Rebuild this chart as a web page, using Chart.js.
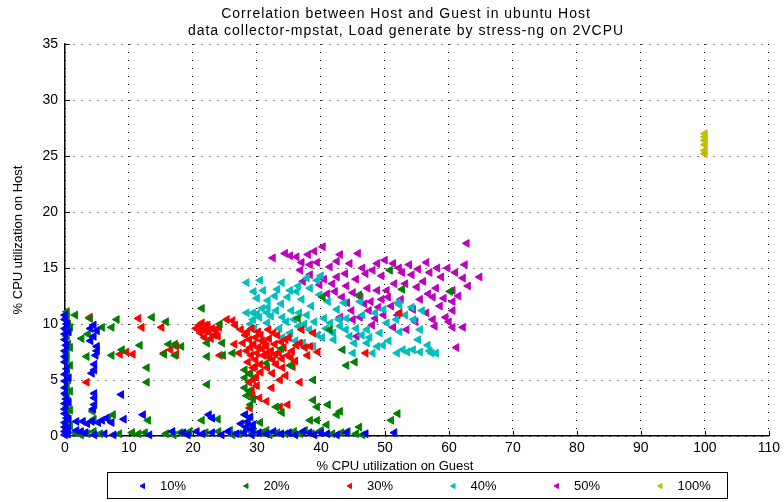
<!DOCTYPE html>
<html>
<head>
<meta charset="utf-8">
<script src="https://cdn.jsdelivr.net/npm/chart.js@4/dist/chart.umd.min.js"></script>
<style>
  html, body { margin: 0; padding: 0; background: #fff; }
</style>
</head>
<body>
<canvas id="scatter-chart" width="784" height="502"></canvas>
<script>
var titleLines = ["Correlation between Host and Guest in ubuntu Host",
                  "data collector-mpstat, Load generate by stress-ng on 2VCPU"]
var xTitle = "% CPU utilization on Guest"
var yTitle = "% CPU utilization on Host"
var xTicks = [0, 10, 20, 30, 40, 50, 60, 70, 80, 90, 100, 110]
var yTicks = [0, 5, 10, 15, 20, 25, 30, 35]
var seriesLabels = ["10%", "20%", "30%", "40%", "50%", "100%"]
var seriesColors = ["#0000ff", "#008000", "#ff0000", "#00bfbf", "#bf00bf", "#bfbf00"]

// [guest, host] pairs
var load10 = [
  [0,0.1],[0,0.4],[0,0.8],[0,1.2],[0.3,1.6],[0,2.0],[0,2.4],[0,2.9],[0.2,3.3],[0,3.8],[0,4.3],[0,4.9],
  [0,5.5],[0.3,6.0],[0,6.6],[0,7.1],[0,7.6],[0.2,8.1],[0,8.6],[0,9.1],[0,9.6],[0.3,10.0],[0,10.4],[0,10.8],
  [0.5,0.2],[0.5,0.7],[0.6,1.5],[0.6,3.0],[0.6,5.2],[0.6,9.3],
  [4.5,9.9],[4,9.6],[5,9.4],[4.5,8.9],[4,8.5],[5,8.0],[5,7.6],[4.8,7.2],[4.6,6.4],[4.6,5.9],[4.2,5.6],
  [4.6,3.8],[4.6,3.4],[4.6,2.8],[4.4,2.4],
  [1.8,1.3],[2.8,1.3],[3.5,1.1],[4.2,1.3],[5.2,1.2],[5.8,1.4],[6.5,1.6],[7.3,1.2],[9.2,1.5],[12.2,1.9],
  [8.8,3.7],[22.5,1.9],[23,1.6],
  [1.8,0.5],[2.5,0.4],[3.2,0.3],[4.6,0.1],[6.2,0.2],[7.6,0.1],[13.2,0.1],[16.8,0.4],[18.5,0.3],[19.2,0.1],
  [20.6,0.4],[21.5,0.2],[23.0,0.3],[24.5,0.1],[25.5,0.4],[26.8,0.2],[28.0,0.3],[29.2,0.1],[30.3,0.3],
  [31.5,0.2],[32.6,0.4],[33.8,0.2],[35.0,0.3],[36.0,0.1],[37.2,0.4],[38.2,0.3],[39.0,0.1],[40.0,0.3],
  [41.0,0.2],[42.5,0.1],[44.0,0.3],[47.0,0.2],[51.5,0.3],
  [28.2,1.9],[29,1.7],[28.6,1.3],[29.4,1.0],[28.3,0.8],[29.2,0.6],[27.5,1.1]
]
var load20 = [
  [0.3,0.2],[0.3,0.6],[0.3,1.0],[0.5,1.4],[0.3,2.0],[0.3,2.6],[0.5,3.1],[0.3,3.6],[0.3,4.4],[0.5,5.0],
  [0.3,5.6],[0.8,6.3],[0.3,6.9],[0.3,7.4],[0.5,8.2],[0.3,8.9],[0.3,9.4],[0.5,10.0],[0.3,10.6],[0.3,11.1],
  [0.8,0.9],[0.8,2.3],[0.8,4.0],[0.8,7.9],[0.8,9.7],
  [1.6,10.8],[3.9,10.5],[2.6,8.7],[3.6,9.1],[5.8,9.7],[7.3,9.7],[8.1,10.4],[3.4,7.1],[7.3,7.2],[8.9,7.7],
  [4.3,2.2],[4.5,1.5],[7.5,1.9],[6.8,1.5],[13,1.4],[11.7,8.1],[12.8,6.1],[12.8,4.8],[13.6,10.6],
  [16.2,8.2],[17.2,8.2],[18.2,8.0],[15.5,7.3],[17.2,7.2],[15.8,10.2],[21.4,11.4],[22.2,8.3],[24.6,8.3],
  [22.2,7.1],[26.2,7.4],[22.2,4.6],[21.4,1.4],[23.9,1.5],
  [1.5,0.3],[3.5,0.2],[4.5,0.4],[5.5,0.2],[10.5,0.3],[11.5,0.2],[15.8,0.2],[18,0.3],[22,0.3],[24,0.4],
  [25.8,0.5],[27.2,0.2],[29.5,0.4],[30.8,0.3],[32,0.1],[33.2,0.3],[34.5,0.2],[35.8,0.4],[37.5,0.5],
  [38.6,0.2],[41.8,0.2],[43.2,0.3],[45.5,0.2],[46.5,0.1],
  [2.5,0.1],[8.5,0.2],[12.5,0.3],[17,0.1],[19.5,0.4],[26.2,0.1],[28.5,0.6],[31.5,0.5],[36.8,0.2],[40,0.5],[44.2,0.4],
  [28.1,5.9],[28.1,5.2],[28.1,4.3],[28.8,4.0],[29.4,3.3],[29.0,2.8],[28.1,1.9],[28.5,1.2],[30.5,1.2],[29.2,0.9],
  [29.0,5.5],[28.4,3.6],
  [33,2.6],[33.9,2.1],[35.2,6.3],[38.8,5],[38.8,3.2],[39.4,2.6],[41.1,2.8],[42.5,1.9],[43,2.2],[38.3,1.4],
  [39.4,1.4],[40.9,1.0],[46,0.8],[44,6.3],[45.3,6.6],[43.4,7.7],[52,2],[51,1.4],[41.4,9.5],[40.3,12.4],
  [46,12.6],[50.8,14.8],[52.7,13.1],[60.2,12.9],[36.4,10.5],[33.8,7.8],[31.5,6.5],[24.7,7.2],[24.2,10.0]
]
var load30 = [
  [3.9,10.6],[11.5,10.5],[12,9.7],[15.1,9.7],[3.4,4.8],[8.6,7.3],[9.6,7.5],[10.6,7.3],[15.5,7.4],[16.5,7.7],
  [17.4,7.3],[17.4,8.0],[24.2,7.2],[26.2,10.3],
  [20.5,9.6],[21,9.9],[21.5,9.5],[22,9.9],[22.5,9.3],[21.8,8.8],[23,9.6],[22.3,9.9],[23.6,9.4],[24.1,9.7],
  [22.8,8.7],[21.2,9.2],[23.3,9.0],[22.0,9.4],[21.4,10.1],[23.9,8.9],
  [25.3,10.4],[26.6,9.9],[27.5,9.5],[28.2,9.0],[28.8,8.6],[29.5,8.2],[30.2,7.9],[30.8,8.5],[31.5,8.0],
  [32.2,7.6],[32.8,8.2],[33.5,7.4],[34.2,7.9],[34.8,7.2],[35.5,7.6],[36.2,8.1],[36.7,8.3],[37.5,7.9],
  [38.3,8.0],[39.5,7.5],[28.4,7.6],[29.1,7.2],[29.8,6.8],[30.5,6.4],[28.6,6.6],[29.4,6.1],[28.9,5.6],
  [29.4,5.0],[30.0,4.5],[29.2,4.1],[31.6,6.1],[32.5,6.8],[33.0,6.4],[33.6,5.0],[32.3,4.3],[35.6,6.2],
  [36.7,4.8],[34.5,5.4],[33.6,2.6],[34.8,2.8],[28.9,2.5],[30.2,9.3],[31.8,9.5],[33.2,9.0],[35.0,8.8],
  [27.8,8.3],[31.0,7.2],[32.0,7.0],[47,7.4],[52.3,11],[37.0,9.5],[38.8,9.2],[26.5,8.2],[27.2,7.4],
  [28.5,9.3],[29.2,9.6],[29.8,8.8],[30.6,9.0],[31.2,8.3],[31.9,8.7],[32.6,9.2],[33.8,8.4],[34.5,8.6],
  [29.0,7.9],[30.0,7.4],[30.8,7.8],[31.6,7.4],[32.9,7.3],[33.9,6.9],[29.7,6.2],[30.6,5.7],[29.9,5.3],
  [28.8,4.8],[30.4,3.4],[31.5,3.1],[32.4,5.6],[34.0,6.1],[35.3,7.0],[36.0,6.7],[37.9,7.2],[29.3,3.6]
]
var load40 = [
  [28.4,13.7],[30.5,13.9],[29.5,12.9],[31.7,12.1],[31.7,11.5],[33.9,13.7],[35.2,13.0],[33.8,11.8],
  [36.5,13.4],[38.3,13.2],[39.4,13.9],[39.8,12.6],[41.1,12.0],[37.8,10.8],[35.4,11.2],[34.0,10.6],
  [29.4,11.0],[30.4,10.6],[31.6,10.1],[28.4,11.0],[29.4,10.4],[31.6,11.0],[35.2,9.2],[37.2,8.3],
  [38.8,8.0],[40.2,8.8],[41.9,9.2],[43.0,9.8],[45.0,7.4],[47.2,8.3],[48.1,7.4],[46.1,12.0],[47.2,9.5],
  [52.3,11.7],[55.5,9.5],[55.2,8.6],[52.0,11.9],[54.2,11.5],[51.8,10.4],[54.5,10.4],[52.3,9.3],
  [56.7,8.1],[52.8,7.7],[54.4,7.7],[55.5,7.5],[57.0,7.6],[58.0,7.4],[49.7,8.1],[50.3,10.1],[51.9,7.4],
  [53.5,7.5],[49.2,9.2],[44.0,10.5],[42.5,11.3],[36.5,9.8],[33.5,9.6],[32.8,12.5],[30.0,12.3],
  [37.0,12.2],[38.5,11.6],[40.5,10.5],[42.0,8.6],[44.5,8.9],[46.5,10.8],[48.5,11.0],[45.5,9.6],
  [40.0,14.3],[34.0,8.8],[36.0,8.5],[29.6,9.6],[39.0,10.2],[43.6,11.9],[57.3,7.4],
  [29.0,10.0],[30.0,10.9],[30.8,11.4],[32.2,10.7],[33.0,11.2],[34.6,10.2],[35.8,10.4],[36.6,11.0],
  [37.4,10.0],[38.2,9.5],[39.5,9.0],[40.8,9.6],[41.5,10.1],[42.8,10.4],[43.9,9.5],[45.2,8.3],[46.4,9.0],
  [47.6,8.8],[48.8,8.0],[50.6,8.5],[49.8,11.3],[53.2,10.8],[55.8,11.2],[34.8,12.4],[36.2,12.9],
  [31.0,13.0],[33.2,13.1],[37.8,14.1]
]
var load50 = [
  [32.5,15.9],[34.4,16.3],[35.2,16.1],[37,15.5],[39.4,15.5],[38.3,15.3],[40.3,16.9],[43,16.2],[42.5,15.6],
  [41.4,15.1],[45.8,16.3],[44.5,15.4],[48.8,15.4],[50,15.7],[48.1,14.8],[49.5,14.3],[51.3,15.4],
  [52.7,14.6],[54.2,14.4],[56.5,15.5],[57,14.6],[58.2,15.0],[59.8,15],[62.5,15.3],[62.8,17.2],[62.2,14.1],
  [64.8,14.2],[38.3,14.4],[37.2,13.8],[39.8,13.5],[43.3,12.4],[42.2,12.9],[44.1,11.9],[47.3,13.2],
  [48.8,13.0],[50.3,13.0],[46.2,12.4],[49.5,12.2],[46.1,10.6],[47.5,11.2],[48.5,10.5],[51.0,11.6],
  [52.5,12.2],[54.4,11.3],[55.5,12.2],[57.5,12.4],[60.6,13.0],[60.6,12.0],[60.6,11.2],[57.5,10.4],
  [56.5,11.0],[62.2,9.7],[60.6,9.7],[45.6,8.9],[61.2,7.9],[41.0,12.7],[43,10.6],[45,10.4],[51.3,9.7],
  [53.4,9.5],[58.6,11.6],[59.5,10.6],[55.0,13.3],[53.2,13.6],[45.5,14.0],[44.0,13.4],[40.5,14.0],
  [39.0,16.5],[36.2,16.0],[47.0,14.5],[61.5,12.5],[63.0,13.4],[58.0,13.2],
  [43.8,14.5],[46.5,15.0],[45.0,12.8],[47.8,12.0],[49.0,11.5],[50.5,12.4],[51.5,13.6],[52.2,15.0],
  [53.8,15.3],[55.2,14.9],[56.0,13.8],[56.8,12.7],[58.8,14.2],[59.2,12.3],[61.0,14.6],[42.5,14.2],
  [41.8,13.6],[44.8,11.2],[46.8,11.8],[48.0,9.9],[49.8,10.8],[52.0,10.8],[54.8,10.2],[57.8,9.8],
  [60.0,10.2],[38.0,16.2],[36.8,14.8]
]
var load100 = [[100,25.2],[100,25.5],[100,26.0],[100,26.4],[100,26.7],[100,27.0]]

var allSeries = [load10, load20, load30, load40, load50, load100]
var fontFam = "'Liberation Sans', Arial, sans-serif"

function toPoints(pairs){
  var pts = []
  for (var p of pairs){
    pts.push({x: p[0], y: p[1]})
  }
  return pts
}

function buildDatasets(){
  var datasets = []
  for (var i = 0; i < allSeries.length; i++){
    datasets.push({
      label: seriesLabels[i],
      data: toPoints(allSeries[i]),
      pointStyle: "triangle",
      rotation: -90,
      pointRadius: 4.5,
      pointBorderWidth: 1,
      backgroundColor: seriesColors[i],
      borderColor: seriesColors[i],
      showLine: false,
      clip: false
    })
  }
  return datasets
}

function leftTriangle(ctx, x, y, r, color){
  ctx.beginPath()
  ctx.moveTo(x - r, y)
  ctx.lineTo(x + r / 2, y - r * 0.866)
  ctx.lineTo(x + r / 2, y + r * 0.866)
  ctx.closePath()
  ctx.fillStyle = color
  ctx.strokeStyle = color
  ctx.fill()
  ctx.stroke()
}

// inward tick marks on the two axes
var axisTicks = {
  id: "axisTicks",
  beforeDatasetsDraw(chart){
    var ctx = chart.ctx
    var xs = chart.scales.x, ys = chart.scales.y
    var a = chart.chartArea
    ctx.save()
    ctx.strokeStyle = "#000"
    ctx.lineWidth = 1
    ctx.beginPath()
    for (var v of xTicks){
      var px = Math.round(xs.getPixelForValue(v)) + 0.5
      ctx.moveTo(px, a.bottom)
      ctx.lineTo(px, a.bottom - 5)
    }
    for (var w of yTicks){
      var py = Math.round(ys.getPixelForValue(w)) + 0.5
      ctx.moveTo(a.left, py)
      ctx.lineTo(a.left + 5, py)
    }
    ctx.stroke()
    ctx.restore()
  }
}

// title, x label and the boxed legend
var textDecor = {
  id: "textDecor",
  afterDraw(chart){
    var ctx = chart.ctx
    ctx.save()
    ctx.fillStyle = "#000"
    ctx.textAlign = "center"
    ctx.textBaseline = "middle"
    ctx.font = "14px " + fontFam
    try { ctx.letterSpacing = "1px" } catch(e) {}
    ctx.fillText(titleLines[0], 406, 14)
    ctx.fillText(titleLines[1], 406, 31)
    try { ctx.letterSpacing = "0px" } catch(e) {}
    ctx.font = "13px " + fontFam
    ctx.fillText(xTitle, 395, 466)

    ctx.lineWidth = 1
    ctx.strokeStyle = "#000"
    ctx.strokeRect(107.5, 472.5, 620, 26)
    ctx.textAlign = "left"
    for (var i = 0; i < seriesLabels.length; i++){
      var mx = 143 + i * 103.5
      leftTriangle(ctx, mx, 486, 3, seriesColors[i])
      ctx.fillStyle = "#000"
      ctx.fillText(seriesLabels[i], mx + 17, 486)
    }
    ctx.restore()
  }
}

var myChart = new Chart(document.getElementById("scatter-chart"), {
  type: "scatter",
  data: { datasets: buildDatasets() },
  options: {
    responsive: false,
    animation: false,
    events: [],
    layout: { padding: { top: 44, right: 14, bottom: 30, left: 0 } },
    plugins: {
      legend: { display: false },
      title: { display: false },
      tooltip: { enabled: false }
    },
    scales: {
      x: {
        type: "linear",
        min: 0, max: 110,
        afterBuildTicks: function(scale){ scale.ticks = xTicks.map(function(v){ return {value: v} }) },
        afterFit: function(scale){ scale.height = 36 },
        ticks: { color: "#000", padding: 4, font: { family: fontFam, size: 14 } },
        grid: { color: "#000", lineWidth: 1, drawTicks: false },
        border: { display: true, color: "#000", width: 1.5, dash: [1, 7] }
      },
      y: {
        type: "linear",
        min: 0, max: 35,
        afterBuildTicks: function(scale){ scale.ticks = yTicks.map(function(v){ return {value: v} }) },
        afterFit: function(scale){ scale.width = 65 },
        ticks: { color: "#000", padding: 7, font: { family: fontFam, size: 14 } },
        grid: { color: "#000", lineWidth: 1, drawTicks: false },
        border: { display: true, color: "#000", width: 1.5, dash: [1, 7] },
        title: { display: true, text: yTitle, color: "#000", padding: { top: 11, bottom: 0 },
                 font: { family: fontFam, size: 13 } }
      }
    }
  },
  plugins: [axisTicks, textDecor]
});
</script>
</body>
</html>
